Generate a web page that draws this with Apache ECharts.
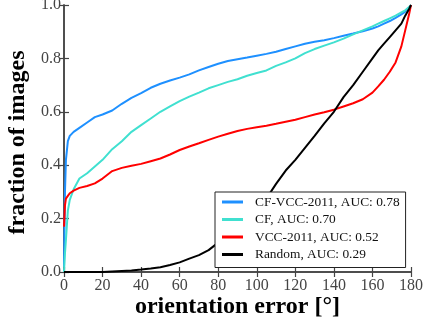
<!DOCTYPE html>
<html>
<head>
<meta charset="utf-8">
<script src="https://cdn.jsdelivr.net/npm/echarts@6/dist/echarts.min.js"></script>
<style>
  html, body { margin: 0; padding: 0; background: #fff; }
  #chart { width: 424px; height: 321px; }
</style>
</head>
<body>
<div id="chart"></div>
<script>
// orientation error in degrees, sample points
const errorDeg = [0, 0.5, 1, 2, 3, 5, 8, 12, 16, 20, 25, 30, 35, 40, 45, 50, 55, 60, 65, 70, 75, 80, 85, 90, 95, 100, 105, 110, 115, 120, 125, 130, 135, 140, 145, 150, 155, 160, 163, 166, 169, 172, 175, 177, 179, 180];

const cfVcc = [0.02, 0.3, 0.42, 0.49, 0.51, 0.525, 0.54, 0.56, 0.58, 0.59, 0.605, 0.63, 0.652, 0.67, 0.69, 0.705, 0.717, 0.728, 0.74, 0.755, 0.768, 0.78, 0.79, 0.797, 0.803, 0.81, 0.817, 0.825, 0.835, 0.845, 0.855, 0.862, 0.868, 0.876, 0.885, 0.893, 0.902, 0.912, 0.92, 0.93, 0.94, 0.952, 0.965, 0.975, 0.99, 1.0];
const cf = [0, 0.07, 0.12, 0.23, 0.27, 0.31, 0.35, 0.37, 0.395, 0.42, 0.46, 0.49, 0.525, 0.55, 0.575, 0.6, 0.62, 0.64, 0.657, 0.672, 0.688, 0.7, 0.712, 0.722, 0.735, 0.745, 0.755, 0.772, 0.785, 0.8, 0.82, 0.835, 0.848, 0.86, 0.874, 0.89, 0.905, 0.92, 0.93, 0.94, 0.95, 0.96, 0.972, 0.98, 0.992, 1.0];
const vcc = [0.17, 0.25, 0.275, 0.285, 0.295, 0.305, 0.315, 0.322, 0.332, 0.35, 0.378, 0.39, 0.398, 0.405, 0.415, 0.425, 0.44, 0.457, 0.47, 0.482, 0.495, 0.507, 0.518, 0.528, 0.536, 0.542, 0.548, 0.555, 0.563, 0.57, 0.58, 0.59, 0.598, 0.608, 0.62, 0.632, 0.647, 0.672, 0.695, 0.72, 0.75, 0.785, 0.845, 0.905, 0.965, 1.0];
const random = [0, 0, 0, 0, 0, 0, 0, 0, 0, 0, 0.002, 0.004, 0.006, 0.009, 0.013, 0.018, 0.026, 0.036, 0.05, 0.063, 0.082, 0.11, 0.145, 0.18, 0.215, 0.235, 0.275, 0.33, 0.38, 0.42, 0.465, 0.51, 0.557, 0.6, 0.655, 0.7, 0.75, 0.8, 0.83, 0.855, 0.88, 0.905, 0.93, 0.96, 0.985, 1.0];

const seriesNames = ['CF-VCC-2011, AUC: 0.78', 'CF, AUC: 0.70', 'VCC-2011, AUC: 0.52', 'Random, AUC: 0.29'];
const seriesColors = ['#1E90FF', '#40E0D0', '#FF0000', '#000000'];
const seriesValues = [cfVcc, cf, vcc, random];

const serif = 'Liberation Serif';
const frame = { show: true, lineStyle: { color: '#444', width: 1.5 } };
const ticks = { show: true, inside: true, length: 5, lineStyle: { color: '#444', width: 1.2 } };

const chart = echarts.init(document.getElementById('chart'));
chart.setOption({
  animation: false,
  grid: { left: 64, right: 13, top: 5, bottom: 49, containLabel: false, outerBoundsMode: 'none' },
  legend: {
    orient: 'vertical',
    left: 215,
    top: 192,
    padding: [3, 6, 6, 7],
    itemGap: 3.5,
    itemWidth: 21,
    itemHeight: 3,
    icon: 'rect',
    backgroundColor: '#fff',
    borderColor: '#222',
    borderWidth: 1,
    borderRadius: 0,
    textStyle: { fontFamily: serif, fontSize: 13.4, color: '#111', lineHeight: 14, padding: [0, 0, 0, 7] },
    data: seriesNames
  },
  xAxis: [{
    type: 'value', min: 0, max: 180, interval: 20,
    name: 'orientation error [°]', nameLocation: 'middle', nameGap: 23, nameMoveOverlap: false,
    nameTextStyle: { fontFamily: serif, fontSize: 24, fontWeight: 'bold', color: '#000' },
    axisLine: frame, axisTick: ticks, splitLine: { show: false },
    axisLabel: { fontFamily: serif, fontSize: 16, color: '#444', margin: 6 }
  }, {
    type: 'value', position: 'top', min: 0, max: 180, interval: 20,
    axisLine: frame, axisTick: ticks, splitLine: { show: false }, axisLabel: { show: false }
  }],
  yAxis: [{
    type: 'value', min: 0, max: 1, interval: 0.2,
    name: 'fraction of images', nameLocation: 'middle', nameGap: 34,
    nameTextStyle: { fontFamily: serif, fontSize: 24, fontWeight: 'bold', color: '#000', padding: [0, 8, 0, 0] },
    axisLine: frame, axisTick: ticks, splitLine: { show: false },
    axisLabel: { fontFamily: serif, fontSize: 16, color: '#444', margin: 3, formatter: v => v.toFixed(1) }
  }, {
    type: 'value', position: 'right', min: 0, max: 1, interval: 0.2,
    axisLine: frame, axisTick: ticks, splitLine: { show: false }, axisLabel: { show: false }
  }],
  series: seriesNames.map((name, i) => ({
    name: name,
    type: 'line',
    symbol: 'none',
    color: seriesColors[i],
    lineStyle: { width: 2, color: seriesColors[i] },
    data: errorDeg.map((d, j) => [d, seriesValues[i][j]])
  }))
});
</script>
</body>
</html>
